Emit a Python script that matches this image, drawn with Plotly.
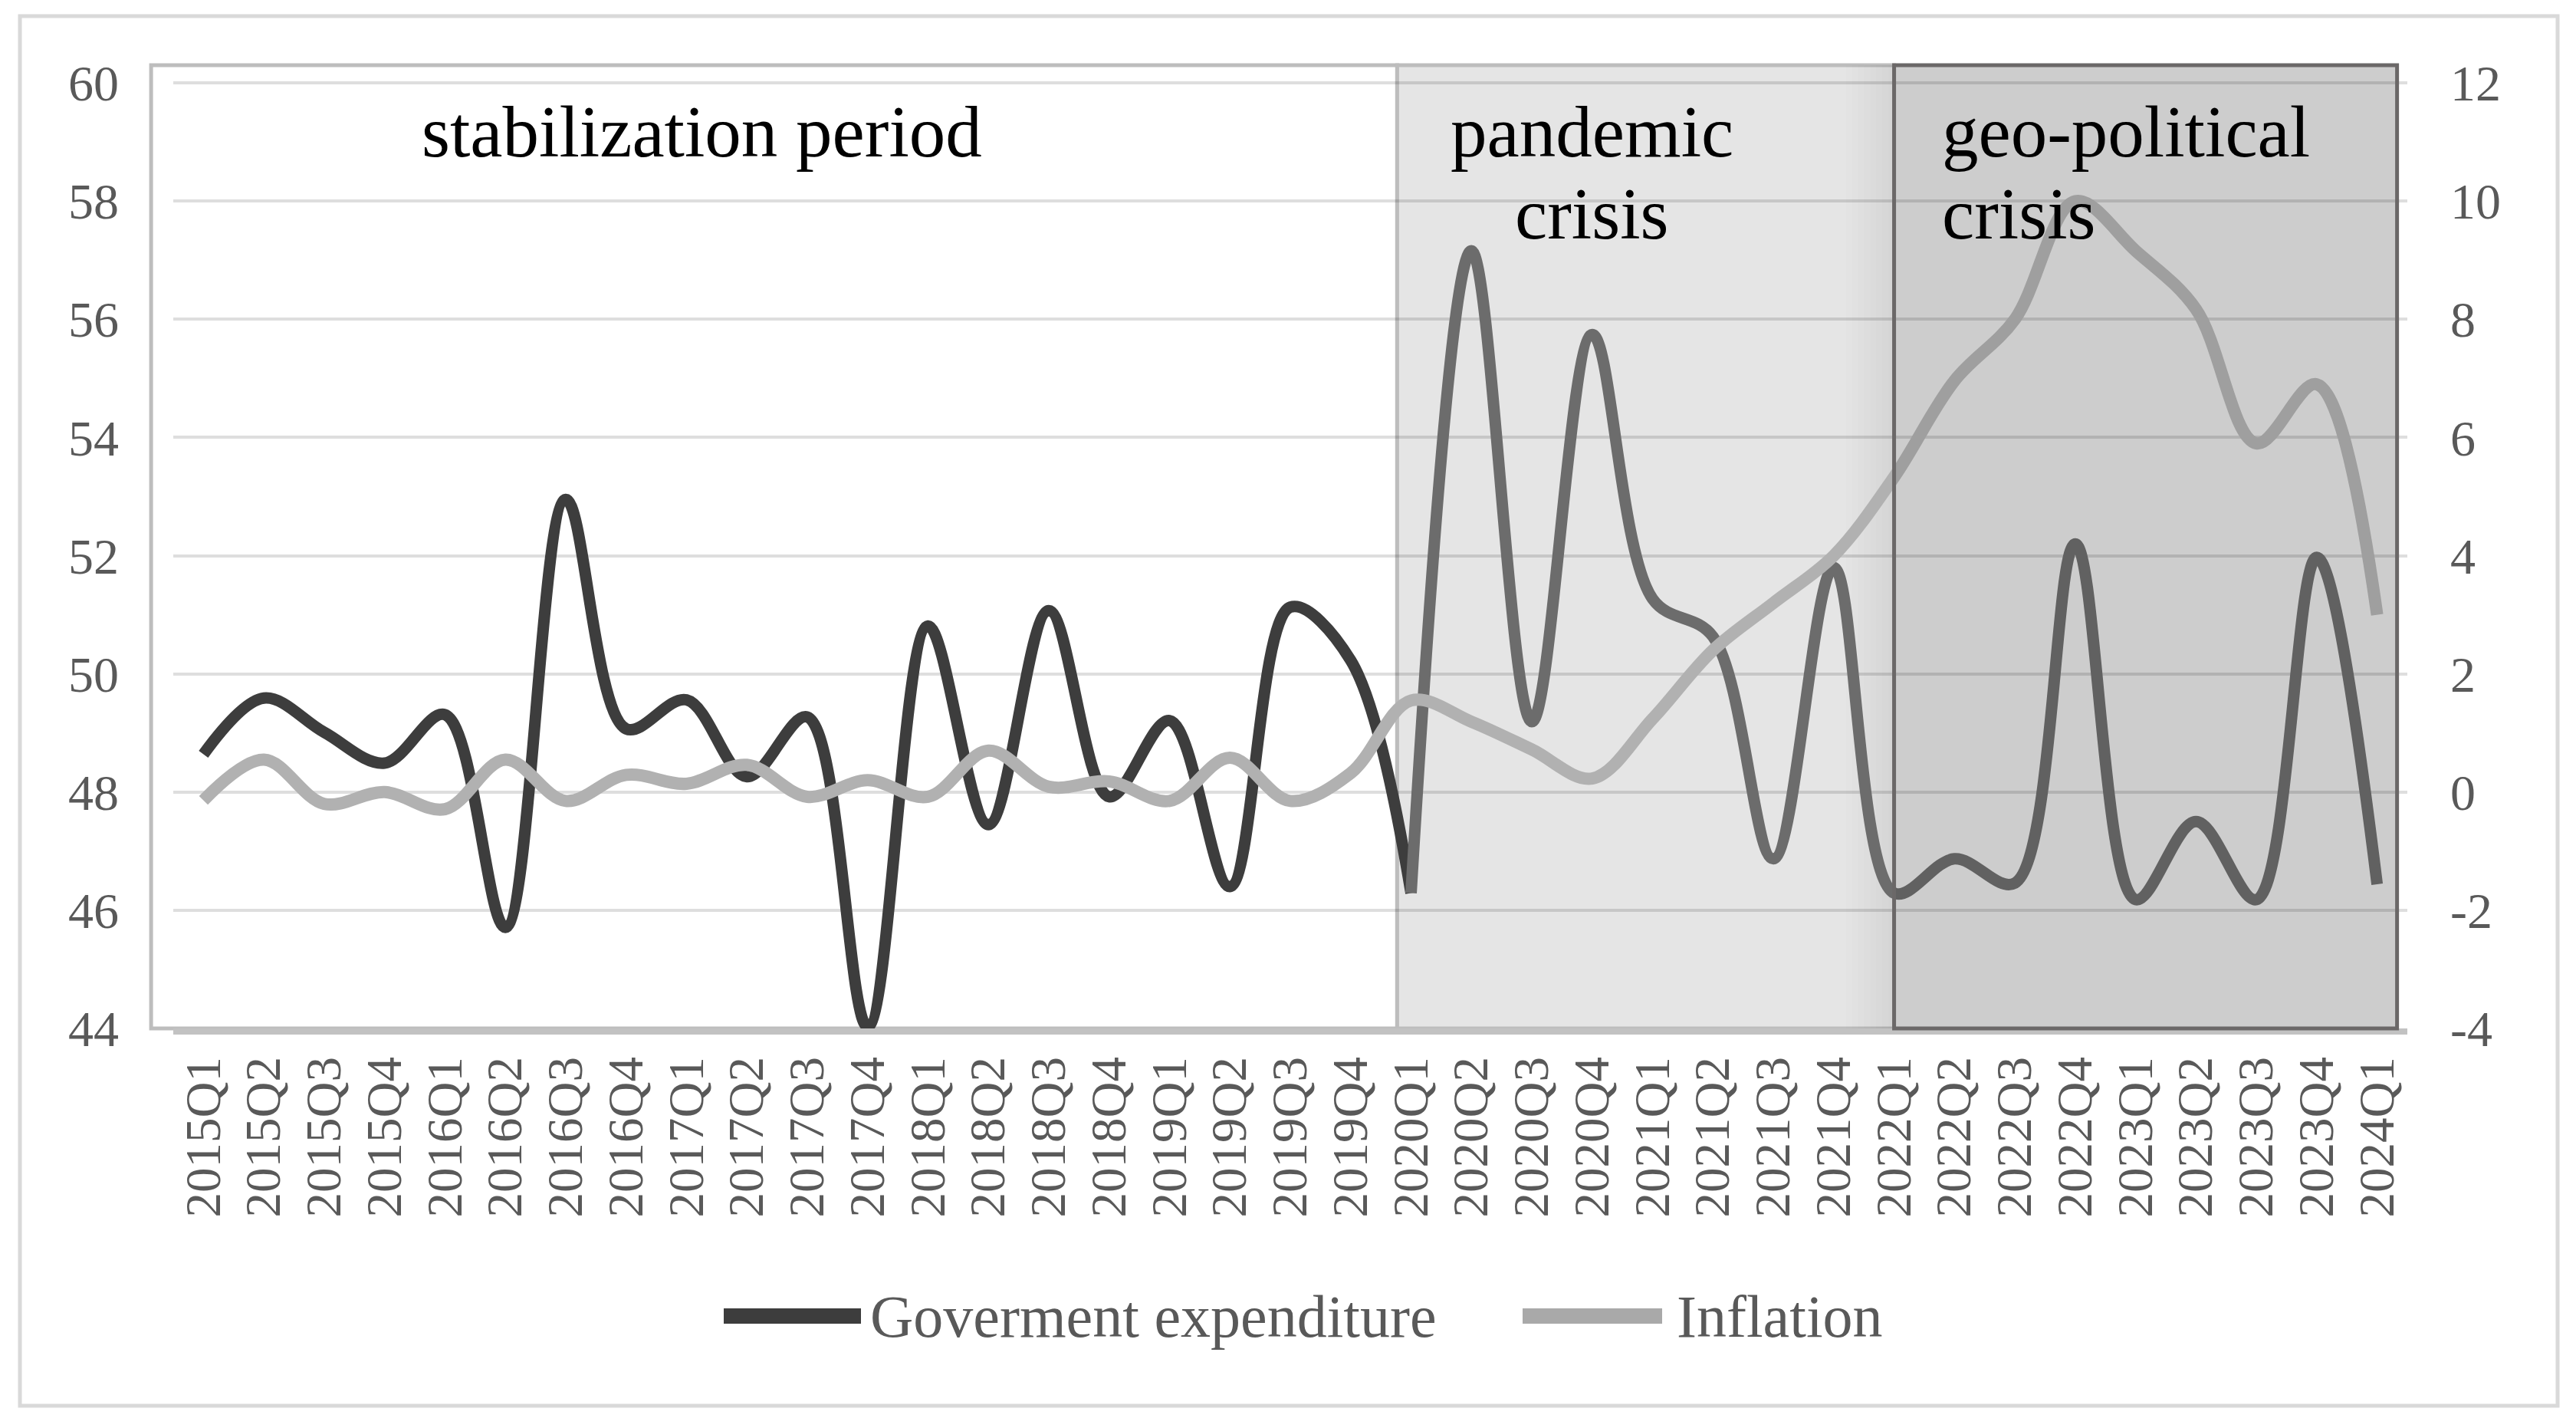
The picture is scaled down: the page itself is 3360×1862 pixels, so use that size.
import plotly.graph_objects as go

# ---------------- data ----------------
quarters = ["2015Q1", "2015Q2", "2015Q3", "2015Q4", "2016Q1", "2016Q2", "2016Q3", "2016Q4",
            "2017Q1", "2017Q2", "2017Q3", "2017Q4", "2018Q1", "2018Q2", "2018Q3", "2018Q4",
            "2019Q1", "2019Q2", "2019Q3", "2019Q4", "2020Q1", "2020Q2", "2020Q3", "2020Q4",
            "2021Q1", "2021Q2", "2021Q3", "2021Q4", "2022Q1", "2022Q2", "2022Q3", "2022Q4",
            "2023Q1", "2023Q2", "2023Q3", "2023Q4", "2024Q1"]

gov_expenditure = [48.64, 49.59, 49.01, 48.49, 49.31, 45.71, 52.95, 49.07,
                   49.56, 48.26, 49.27, 44.03, 50.81, 47.45, 51.07, 47.92,
                   49.21, 46.40, 51.13, 50.23, 46.29, 57.16, 49.19, 55.74,
                   51.27, 50.63, 46.87, 51.80, 46.29, 46.87, 46.46, 52.20,
                   46.18, 47.50, 46.18, 51.97, 46.44]

inflation = [-0.14, 0.55, -0.20, 0.00, -0.29, 0.55, -0.15, 0.29,
             0.14, 0.46, -0.08, 0.20, -0.08, 0.70, 0.09, 0.18,
             -0.15, 0.58, -0.15, 0.32, 1.55, 1.19, 0.72, 0.23,
             1.24, 2.40, 3.20, 4.00, 5.33, 6.96, 8.00, 10.00,
             9.16, 8.17, 5.90, 6.90, 3.00]

left_ticks = [44, 46, 48, 50, 52, 54, 56, 58, 60]
right_ticks = [-4, -2, 0, 2, 4, 6, 8, 10, 12]

series_names = ["Goverment expenditure", "Inflation"]
period_labels = [["stabilization period"], ["pandemic", "crisis"], ["geo-political", "crisis"]]
pandemic_start = 20   # index of 2020Q1
geo_start = 28        # index of 2022Q1

# ---------------- styling ----------------
W, H = 3360, 1862
FONT = "Liberation Serif"
C_GOV = "#3d3d3d"
C_GOV2 = "#6c6c6c"
C_INF = "#b1b1b1"
TICK_C = "#595959"

xd0, xd1 = 226 / W, 3140 / W
yd0, yd1 = 1 - 1341 / H, 1 - 85 / H
n = len(quarters)


def xp(idx):
    return xd0 + (idx + 0.5) / n * (xd1 - xd0)


fig = go.Figure()

fig.add_trace(go.Scatter(x=quarters[:pandemic_start + 1], y=gov_expenditure[:pandemic_start + 1],
                         mode="lines", line=dict(color=C_GOV, width=15, shape="spline", smoothing=1),
                         name=series_names[0], showlegend=False, yaxis="y"))
fig.add_trace(go.Scatter(x=quarters[pandemic_start:], y=gov_expenditure[pandemic_start:],
                         mode="lines", line=dict(color=C_GOV2, width=15, shape="spline", smoothing=1),
                         name=series_names[0], showlegend=False, yaxis="y"))
fig.add_trace(go.Scatter(x=quarters, y=inflation, mode="lines",
                         line=dict(color=C_INF, width=16, shape="spline", smoothing=1),
                         name=series_names[1], showlegend=False, yaxis="y2"))

shapes = []
# outer border
shapes.append(dict(type="rect", xref="paper", yref="paper", x0=26 / W, x1=3336 / W,
                   y0=1 - 1833 / H, y1=1 - 21 / H, line=dict(color="#d9d9d9", width=5),
                   fillcolor="rgba(0,0,0,0)", layer="below"))
# period boxes
b_left = xp(-0.867)
b_pan = xp(pandemic_start - 0.23)
b_geo = xp(geo_start)
b_right = xp(36.33)
shapes.append(dict(type="rect", xref="paper", yref="paper", x0=b_left, x1=b_pan, y0=yd0, y1=yd1,
                   fillcolor="white", line=dict(color="#bdbdbd", width=5), layer="below"))
shapes.append(dict(type="rect", xref="paper", yref="paper", x0=b_pan, x1=b_geo, y0=yd0, y1=yd1,
                   fillcolor="#e5e5e5", line=dict(color="#bdbdbd", width=5), layer="below"))
steps = 8
for k in range(steps):
    gx0 = xp(geo_start - 0.8 + 0.8 * k / steps)
    shapes.append(dict(type="rect", xref="paper", yref="paper", x0=gx0, x1=b_geo, y0=yd0, y1=yd1,
                       fillcolor="rgba(0,0,0,0.006)", line=dict(width=0), layer="below"))
shapes.append(dict(type="rect", xref="paper", yref="paper", x0=b_geo, x1=b_right, y0=yd0, y1=yd1,
                   fillcolor="#e5e5e5", line=dict(width=0), layer="below"))
shapes.append(dict(type="rect", xref="paper", yref="paper", x0=b_geo, x1=b_right, y0=yd0, y1=yd1,
                   fillcolor="rgba(0,0,0,0.10)", line=dict(color="#6b6868", width=5), layer="above"))

# manual legend
leg_y = 1 - 1716 / H
leg_items = [(944, 1123, 1133, C_GOV, series_names[0]), (1986, 2168, 2185, "#a9a9a9", series_names[1])]
annotations = []
for x0, x1, xt, col, name in leg_items:
    shapes.append(dict(type="line", xref="paper", yref="paper", x0=x0 / W, x1=x1 / W, y0=leg_y, y1=leg_y,
                       line=dict(color=col, width=20), layer="above"))
    annotations.append(dict(xref="paper", yref="paper", x=xt / W, y=leg_y, xanchor="left", yanchor="middle",
                            text=name, showarrow=False, font=dict(family=FONT, size=78, color=TICK_C)))

# period labels
ANN = 95
line_y = [1 - 172 / H, 1 - 279 / H]
annotations.append(dict(xref="paper", yref="paper", x=916 / W, y=line_y[0], xanchor="center", yanchor="middle",
                        text=period_labels[0][0], showarrow=False, font=dict(family=FONT, size=ANN, color="black")))
for i, t in enumerate(period_labels[1]):
    annotations.append(dict(xref="paper", yref="paper", x=2076 / W, y=line_y[i], xanchor="center",
                            yanchor="middle", text=t, showarrow=False,
                            font=dict(family=FONT, size=ANN, color="black")))
for i, t in enumerate(period_labels[2]):
    annotations.append(dict(xref="paper", yref="paper", x=2531 / W, y=line_y[i], xanchor="left",
                            yanchor="middle", text=t, showarrow=False,
                            font=dict(family=FONT, size=ANN, color="black")))

fig.update_layout(
    template="none",
    width=W, height=H,
    margin=dict(l=0, r=0, t=0, b=0, pad=0, autoexpand=False),
    paper_bgcolor="white", plot_bgcolor="rgba(0,0,0,0)",
    font=dict(family=FONT, color=TICK_C),
    shapes=shapes, annotations=annotations, showlegend=False,
    xaxis=dict(domain=[xd0, xd1], type="category", range=[-0.5, n - 0.5], tickangle=-90, automargin=False,
               tickfont=dict(family=FONT, size=65, color=TICK_C), ticks="", showgrid=False,
               showline=True, linecolor="#c2c2c2", linewidth=8, ticklabelstandoff=3, zeroline=False),
    yaxis=dict(domain=[yd0, yd1], range=[44, 60.3], tickvals=left_ticks, automargin=False,
               ticktext=[str(v) for v in left_ticks], ticks="",
               tickfont=dict(family=FONT, size=66, color=TICK_C), showgrid=True,
               gridcolor="rgba(0,0,0,0.13)", gridwidth=4, zeroline=False, showline=False,
               ticklabelstandoff=70),
    yaxis2=dict(overlaying="y", side="right", range=[-4, 12.3], tickvals=right_ticks, automargin=False,
                ticktext=[str(v) for v in right_ticks], ticks="",
                tickfont=dict(family=FONT, size=66, color=TICK_C), showgrid=False, zeroline=False,
                showline=False, ticklabelstandoff=55),
)

post = ("document.documentElement.style.margin='0';document.body.style.margin='0';"
        "document.documentElement.style.overflow='hidden';document.body.style.overflow='hidden';"
        "var d=document.getElementById('{plot_id}');d.style.position='fixed';d.style.top='0px';d.style.left='0px';")
fig.write_html("out.html", config={"displayModeBar": False}, post_script=post)
